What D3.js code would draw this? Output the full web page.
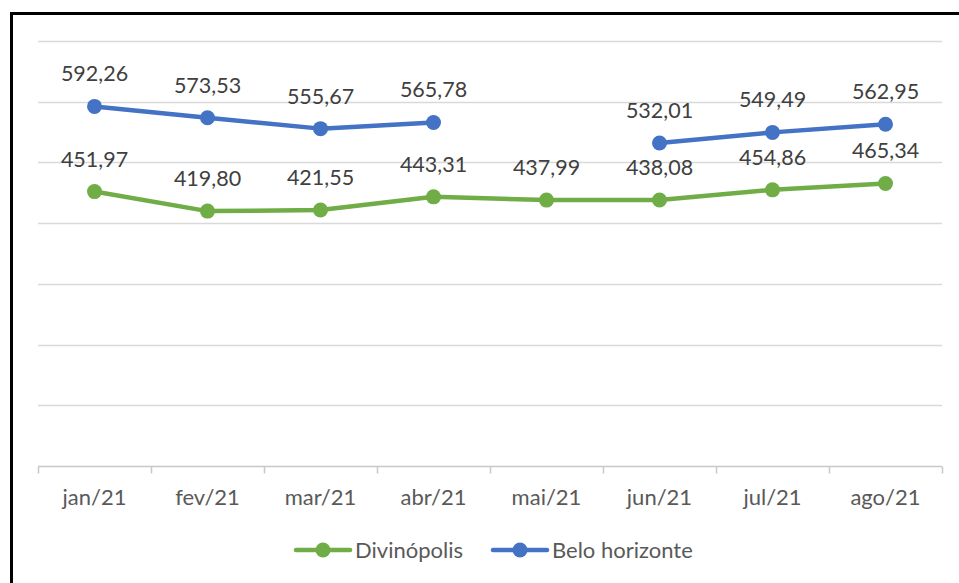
<!DOCTYPE html>
<html>
<head>
<meta charset="utf-8">
<script src="https://cdn.jsdelivr.net/npm/d3@7"></script>
<style>
  body { margin: 0; background: #fff; }
  svg { display: block; font-family: Lato, "Open Sans", sans-serif; }
</style>
</head>
<body>
<div id="chart"></div>
<script>
// chart data
const months = ["jan/21", "fev/21", "mar/21", "abr/21", "mai/21", "jun/21", "jul/21", "ago/21"];
const divinopolis = [451.97, 419.80, 421.55, 443.31, 437.99, 438.08, 454.86, 465.34];
const beloHorizonte = [592.26, 573.53, 555.67, 565.78, null, 532.01, 549.49, 562.95];
const yTicks = [0, 100, 200, 300, 400, 500, 600, 700];

const seriesList = [
  { name: "Divinópolis", values: divinopolis, color: "#70ad47" },
  { name: "Belo horizonte", values: beloHorizonte, color: "#4472c4" }
];

const width = 959, height = 583;
const margin = { top: 41, right: 17, bottom: 117, left: 38 };
const innerW = width - margin.left - margin.right;
const innerH = height - margin.top - margin.bottom;

const svg = d3.select("#chart").append("svg")
  .attr("width", width)
  .attr("height", height);

// black frame (only top/left visible in the crop)
svg.append("rect")
  .attr("x", 11.5).attr("y", 13.5)
  .attr("width", width + 20).attr("height", height + 20)
  .attr("fill", "none")
  .attr("stroke", "#000")
  .attr("stroke-width", 3);

const chart = svg.append("g")
  .attr("transform", `translate(${margin.left},${margin.top})`);

const x = d3.scaleBand().domain(months).range([0, innerW]);
const y = d3.scaleLinear().domain([0, 700]).range([innerH, 0]);
const fmt = v => d3.format(".2f")(v).replace(".", ",");

// gridlines
chart.selectAll(".grid")
  .data(yTicks.slice(1))
  .join("line")
  .attr("class", "grid")
  .attr("x1", 0).attr("x2", innerW)
  .attr("y1", d => Math.round(y(d)) + 0.5)
  .attr("y2", d => Math.round(y(d)) + 0.5)
  .attr("stroke", "#d9d9d9")
  .attr("stroke-width", 1.5);

// x axis
const xAxis = chart.append("g")
  .attr("transform", `translate(0,${Math.round(innerH) + 0.5})`);
xAxis.append("line")
  .attr("x1", 0).attr("x2", innerW)
  .attr("stroke", "#c8c8c8").attr("stroke-width", 1.5);
xAxis.selectAll(".tick")
  .data(d3.range(months.length + 1))
  .join("line")
  .attr("x1", i => Math.round(i * x.step()) + 0.5)
  .attr("x2", i => Math.round(i * x.step()) + 0.5)
  .attr("y1", 0).attr("y2", 7)
  .attr("stroke", "#c8c8c8").attr("stroke-width", 1.5);
xAxis.selectAll(".label")
  .data(months)
  .join("text")
  .attr("x", d => x(d) + x.bandwidth() / 2)
  .attr("y", 38)
  .attr("text-anchor", "middle")
  .attr("fill", "#595959")
  .style("font-size", "22px")
  .text(d => d);

const line = d3.line()
  .defined(d => d != null)
  .x((d, i) => x(months[i]) + x.bandwidth() / 2)
  .y(d => y(d));

seriesList.forEach(s => {
  chart.append("path")
    .datum(s.values)
    .attr("fill", "none")
    .attr("stroke", s.color)
    .attr("stroke-width", 4.5)
    .attr("stroke-linejoin", "round")
    .attr("stroke-linecap", "round")
    .attr("d", line);

  const pts = s.values.map((v, i) => ({ v, m: months[i] })).filter(d => d.v != null);

  chart.selectAll(null)
    .data(pts)
    .join("circle")
    .attr("cx", d => x(d.m) + x.bandwidth() / 2)
    .attr("cy", d => y(d.v))
    .attr("r", 7.5)
    .attr("fill", s.color);

  chart.selectAll(null)
    .data(pts)
    .join("text")
    .attr("x", d => x(d.m) + x.bandwidth() / 2)
    .attr("y", d => y(d.v) - 25)
    .attr("text-anchor", "middle")
    .attr("fill", "#404040")
    .style("font-size", "21.5px")
    .text(d => fmt(d.v));
});

// legend
const legend = svg.append("g").attr("transform", "translate(296,550)");
const legendX = [0, 197];
seriesList.forEach((s, i) => {
  const g = legend.append("g").attr("transform", `translate(${legendX[i]},0)`);
  g.append("line")
    .attr("x1", 0).attr("x2", 54)
    .attr("stroke", s.color).attr("stroke-width", 4.5)
    .attr("stroke-linecap", "round");
  g.append("circle").attr("cx", 27).attr("r", 7.5).attr("fill", s.color);
  g.append("text")
    .attr("x", 59).attr("y", 0)
    .attr("dy", "0.35em")
    .attr("fill", "#595959")
    .style("font-size", "22px")
    .text(s.name);
});
</script>
</body>
</html>
